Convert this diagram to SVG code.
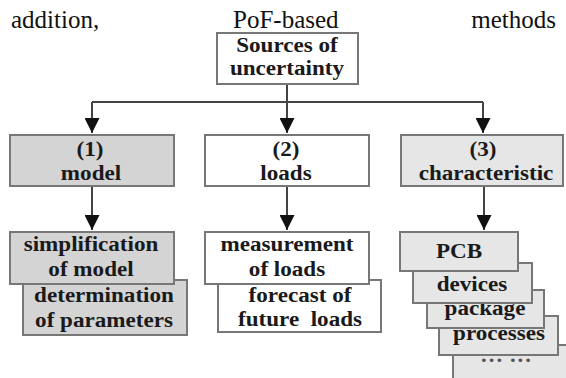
<svg xmlns="http://www.w3.org/2000/svg" width="566" height="378" viewBox="0 0 566 378">
<style>
.bx{stroke:#777;stroke-width:2}
.w{fill:#fff}.g{fill:#d4d4d4}.l{fill:#e6e6e6}
.t{font-family:"Liberation Serif","Times New Roman",serif;font-weight:bold;font-size:21px;fill:#1a1a1a;text-anchor:middle;white-space:pre}
.p{font-family:"Liberation Serif","Times New Roman",serif;font-size:25px;fill:#111}
.c{stroke:#444;stroke-width:2;fill:none}
</style>
<defs>
<marker id="ah" viewBox="0 0 10 10" refX="10" refY="5" markerWidth="20" markerHeight="15" markerUnits="userSpaceOnUse" orient="auto">
<path d="M0,0 L10,5 L0,10 z" fill="#111"/>
</marker>
</defs>
<rect width="566" height="378" fill="#fff"/>
<g id="para">
<text class="p" x="11" y="28">addition,</text>
<text class="p" x="233" y="28">PoF-based</text>
<text class="p" x="556" y="28" text-anchor="end">methods</text>
</g>
<g id="connectors">
<path class="c" d="M287,84 V102 M92,102 H483"/>
<path class="c" d="M92,102 V133" marker-end="url(#ah)"/>
<path class="c" d="M287,102 V133" marker-end="url(#ah)"/>
<path class="c" d="M483,102 V133" marker-end="url(#ah)"/>
<path class="c" d="M92,186 V230" marker-end="url(#ah)"/>
<path class="c" d="M287,186 V230" marker-end="url(#ah)"/>
<path class="c" d="M484,186 V230" marker-end="url(#ah)"/>
</g>
<g id="sources">
<rect class="bx w" x="217" y="33" width="141" height="51"/>
<text class="t" transform="translate(287,52) scale(1.1,1)">Sources of</text>
<text class="t" transform="translate(287,75) scale(1.1,1)">uncertainty</text>
</g>
<g id="model">
<rect class="bx g" x="10" y="135" width="164" height="51"/>
<text class="t" transform="translate(90,156) scale(1.1,1)">(1)</text>
<text class="t" transform="translate(91,180) scale(1.1,1)">model</text>
</g>
<g id="loads">
<rect class="bx w" x="205" y="135" width="164" height="51"/>
<text class="t" transform="translate(286,156) scale(1.1,1)">(2)</text>
<text class="t" transform="translate(286,180) scale(1.1,1)">loads</text>
</g>
<g id="characteristic">
<rect class="bx l" x="401" y="135" width="162" height="51"/>
<text class="t" transform="translate(483,156) scale(1.1,1)">(3)</text>
<text class="t" transform="translate(486,180) scale(1.1,1)">characteristic</text>
</g>
<g id="determination">
<rect class="bx g" x="23" y="280" width="164" height="55"/>
<text class="t" transform="translate(104,302) scale(1.1,1)">determination</text>
<text class="t" transform="translate(104,327) scale(1.1,1)">of parameters</text>
</g>
<g id="simplification">
<rect class="bx g" x="10" y="232" width="164" height="52"/>
<text class="t" transform="translate(91,251) scale(1.1,1)">simplification</text>
<text class="t" transform="translate(91,276) scale(1.1,1)">of model</text>
</g>
<g id="forecast">
<rect class="bx w" x="218" y="280" width="163" height="52"/>
<text class="t" transform="translate(300,302) scale(1.1,1)">forecast of</text>
<text class="t" transform="translate(300,326) scale(1.1,1)">future  loads</text>
</g>
<g id="measurement">
<rect class="bx w" x="205" y="232" width="164" height="52"/>
<text class="t" transform="translate(287,251) scale(1.1,1)">measurement</text>
<text class="t" transform="translate(287,276) scale(1.1,1)">of loads</text>
</g>
<g id="more">
<rect class="bx l" x="453" y="345" width="130" height="50"/>
<text class="t" transform="translate(506,367) scale(1.1,1)" style="fill:#555">··· ···</text>
</g>
<g id="processes">
<rect class="bx l" x="439" y="316" width="119" height="39"/>
<text class="t" transform="translate(499,340) scale(1.1,1)">processes</text>
</g>
<g id="package">
<rect class="bx l" x="427" y="290" width="117" height="38"/>
<text class="t" transform="translate(485,315) scale(1.1,1)">package</text>
</g>
<g id="devices">
<rect class="bx l" x="413" y="263" width="119" height="40"/>
<text class="t" transform="translate(472,291) scale(1.1,1)">devices</text>
</g>
<g id="pcb">
<rect class="bx l" x="400" y="232" width="118" height="39"/>
<text class="t" transform="translate(459,258) scale(1.1,1)">PCB</text>
</g>
</svg>
